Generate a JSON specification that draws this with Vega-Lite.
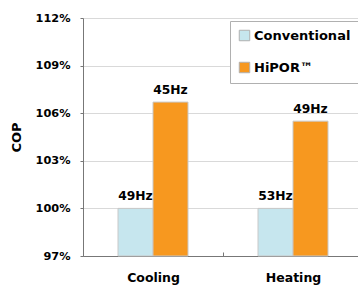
{
  "$schema": "https://vega.github.io/schema/vega-lite/v6.json",
  "width": 280,
  "height": 238,
  "autosize": {"type": "none"},
  "padding": {"left": 83, "top": 18, "right": 0, "bottom": 32},
  "config": {
    "font": "DejaVu Sans",
    "view": {"stroke": null}
  },
  "data": {
    "values": [
      {"mode": "Cooling", "type": "Conventional", "cop": 100, "label": "49Hz"},
      {"mode": "Cooling", "type": "HiPOR™", "cop": 106.7, "label": "45Hz"},
      {"mode": "Heating", "type": "Conventional", "cop": 100, "label": "53Hz"},
      {"mode": "Heating", "type": "HiPOR™", "cop": 105.5, "label": "49Hz"}
    ]
  },
  "encoding": {
    "x": {
      "field": "mode",
      "type": "nominal",
      "title": null,
      "scale": {"paddingInner": 0, "paddingOuter": 0},
      "axis": {
        "labelAngle": 0,
        "labelFont": "DejaVu Sans",
        "labelFontWeight": "bold",
        "labelFontSize": 12.5,
        "labelColor": "#000",
        "labelPadding": 19,
        "domainColor": "#777",
        "tickColor": "#777",
        "tickBand": "extent",
        "tickSize": -4,
        "grid": false
      }
    },
    "xOffset": {
      "field": "type",
      "type": "nominal",
      "scale": {"paddingInner": 0, "paddingOuter": 1}
    }
  },
  "layer": [
    {
      "mark": {"type": "bar", "stroke": "#c8c8c8", "strokeWidth": 1},
      "encoding": {
        "y": {
          "field": "cop",
          "type": "quantitative",
          "title": "COP",
          "scale": {"domain": [97, 112], "zero": false, "nice": false},
          "axis": {
            "values": [97, 100, 103, 106, 109, 112],
            "labelExpr": "datum.value + '%'",
            "labelFont": "DejaVu Sans",
            "labelFontWeight": "bold",
            "labelFontSize": 11.3,
            "labelColor": "#000",
            "labelPadding": 10,
            "tickSize": 3,
            "tickColor": "#777",
            "domainColor": "#777",
            "gridColor": "#d9d9d9",
            "titleFont": "DejaVu Sans",
            "titleFontWeight": "bold",
            "titleFontSize": 13,
            "titleColor": "#000",
            "titleX": -67,
            "titleY": 119,
            "titleAlign": "center",
            "titleBaseline": "middle",
            "titleAngle": -90
          }
        },
        "y2": {"datum": 97},
        "color": {
          "field": "type",
          "type": "nominal",
          "title": null,
          "scale": {"domain": ["Conventional", "HiPOR™"], "range": ["#c6e6ee", "#f7981f"]},
          "legend": {
            "orient": "none",
            "legendX": 147,
            "legendY": 3,
            "fillColor": "#ffffff",
            "strokeColor": "#b0b0b0",
            "padding": 8,
            "symbolType": "square",
            "symbolSize": 110,
            "symbolStrokeColor": "#b0b0b0",
            "symbolStrokeWidth": 1,
            "labelFont": "DejaVu Sans",
            "labelFontWeight": "bold",
            "labelFontSize": 13,
            "labelColor": "#000",
            "rowPadding": 17,
            "labelOffset": 3
          }
        }
      }
    },
    {
      "mark": {"type": "text", "dy": -8, "baseline": "alphabetic", "font": "DejaVu Sans", "fontWeight": "bold", "fontSize": 12.3, "color": "#000"},
      "encoding": {
        "y": {"field": "cop", "type": "quantitative"},
        "text": {"field": "label"}
      }
    }
  ]
}
